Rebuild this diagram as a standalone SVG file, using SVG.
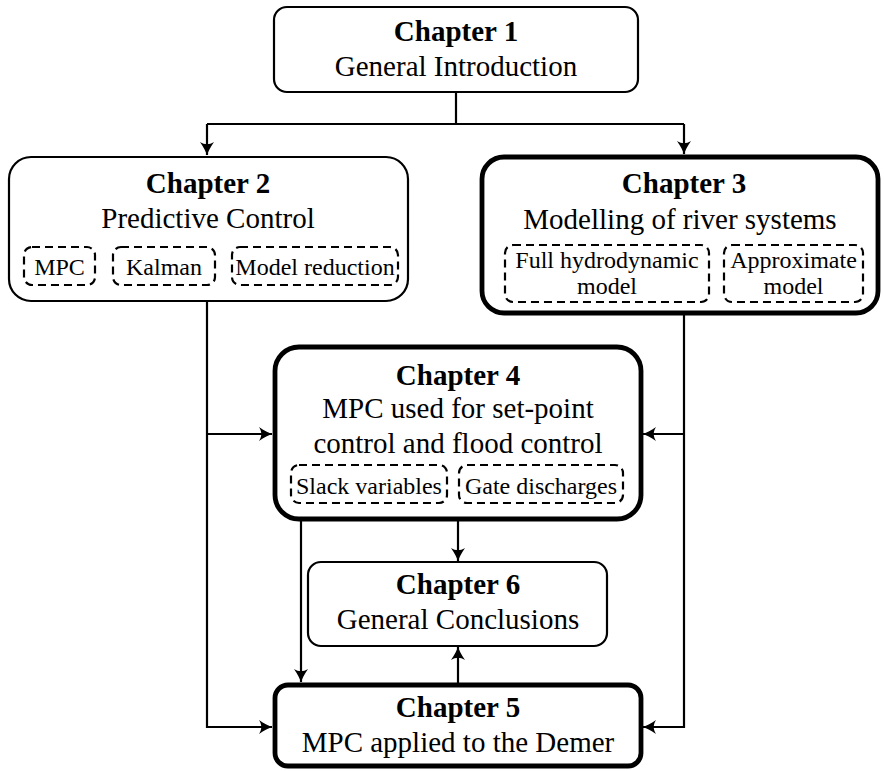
<svg xmlns="http://www.w3.org/2000/svg" width="884" height="771" viewBox="0 0 884 771">
<style>
  .box { fill: #fff; stroke: #000; stroke-width: 2.2; }
  .thick { fill: #fff; stroke: #000; stroke-width: 4.8; }
  .dash { fill: none; stroke: #000; stroke-width: 2.2; stroke-dasharray: 8 5; }
  text { font-family: 'Liberation Serif', 'DejaVu Serif', serif; fill: #000; text-anchor: middle; }
  .title { font-weight: bold; font-size: 29px; }
  .main { font-size: 29px; }
  .sub { font-size: 24px; }
  .conn { fill: none; stroke: #000; stroke-width: 2.2; }
</style>
<defs>
  <marker id="arr" markerUnits="userSpaceOnUse" viewBox="-15 -8 16 16" refX="0" refY="0" markerWidth="16" markerHeight="16" orient="auto">
    <path d="M0.5,0 C-3,-1 -8,-3.5 -13,-7 C-10,-2 -10,2 -13,7 C-8,3.5 -3,1 0.5,0Z" fill="#000"/>
  </marker>
</defs>

<g id="connectors">
  <path class="conn" d="M456,92 V124"/>
  <path class="conn" d="M207,124 H684"/>
  <path class="conn" d="M207,124 V155" marker-end="url(#arr)"/>
  <path class="conn" d="M684,124 V154" marker-end="url(#arr)"/>
  <path class="conn" d="M207,301 V727 H272" marker-end="url(#arr)"/>
  <path class="conn" d="M207,434 H272" marker-end="url(#arr)"/>
  <path class="conn" d="M684,315 V727 H643" marker-end="url(#arr)"/>
  <path class="conn" d="M684,434 H643" marker-end="url(#arr)"/>
  <path class="conn" d="M301,521 V682" marker-end="url(#arr)"/>
  <path class="conn" d="M458,521 V561" marker-end="url(#arr)"/>
  <path class="conn" d="M458,683 V647" marker-end="url(#arr)"/>
</g>

<g id="chapter1">
  <rect class="box" x="274" y="7" width="364" height="85" rx="13"/>
  <text class="title" x="456" y="41">Chapter 1</text>
  <text class="main" x="456" y="76">General Introduction</text>
</g>

<g id="chapter2">
  <rect class="box" x="9" y="157" width="399" height="144" rx="22"/>
  <text class="title" x="208" y="193">Chapter 2</text>
  <text class="main" x="208" y="228">Predictive Control</text>
  <g id="mpc"><rect class="dash" x="24" y="247" width="71" height="38" rx="8"/><text class="sub" x="59.5" y="275">MPC</text></g>
  <g id="kalman"><rect class="dash" x="113" y="247" width="102" height="38" rx="8"/><text class="sub" x="164" y="275">Kalman</text></g>
  <g id="modelred"><rect class="dash" x="232" y="247" width="166" height="38" rx="8"/><text class="sub" x="315" y="275">Model reduction</text></g>
</g>

<g id="chapter3">
  <rect class="thick" x="482" y="157" width="396" height="156" rx="22"/>
  <text class="title" x="684" y="193">Chapter 3</text>
  <text class="main" x="680" y="229">Modelling of river systems</text>
  <g id="fullhydro"><rect class="dash" x="505" y="245" width="204" height="57" rx="8"/><text class="sub" x="607" y="268">Full hydrodynamic</text><text class="sub" x="607" y="294">model</text></g>
  <g id="approx"><rect class="dash" x="724" y="245" width="139" height="57" rx="8"/><text class="sub" x="793.5" y="268">Approximate</text><text class="sub" x="793.5" y="294">model</text></g>
</g>

<g id="chapter4">
  <rect class="thick" x="275" y="347" width="366" height="172" rx="24"/>
  <text class="title" x="458" y="385">Chapter 4</text>
  <text class="main" x="458" y="418">MPC used for set-point</text>
  <text class="main" x="458" y="453">control and flood control</text>
  <g id="slack"><rect class="dash" x="291" y="465" width="156" height="38" rx="8"/><text class="sub" x="369" y="494">Slack variables</text></g>
  <g id="gate"><rect class="dash" x="459" y="465" width="164" height="38" rx="8"/><text class="sub" x="541" y="494">Gate discharges</text></g>
</g>

<g id="chapter6">
  <rect class="box" x="308" y="562" width="299" height="84" rx="13"/>
  <text class="title" x="458" y="594">Chapter 6</text>
  <text class="main" x="458" y="629">General Conclusions</text>
</g>

<g id="chapter5">
  <rect class="thick" x="275" y="685" width="366" height="81" rx="13"/>
  <text class="title" x="458" y="717">Chapter 5</text>
  <text class="main" x="458" y="752">MPC applied to the Demer</text>
</g>
</svg>
